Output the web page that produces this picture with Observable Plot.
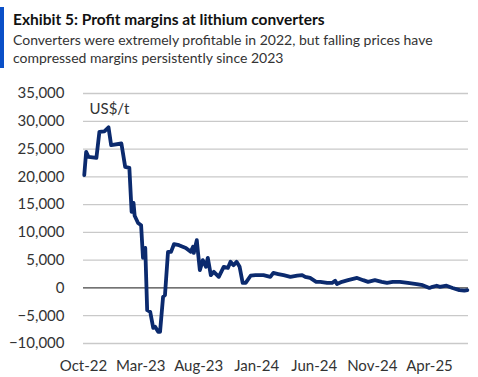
<!DOCTYPE html>
<html>
<head>
<meta charset="utf-8">
<script src="https://cdn.jsdelivr.net/npm/d3@7"></script>
<script src="https://cdn.jsdelivr.net/npm/@observablehq/plot@0.6"></script>
<style>
  body { margin: 0; background: #fff; font-family: Lato, "Open Sans", sans-serif; }
  #wrap { position: relative; width: 478px; height: 377px; overflow: hidden; }
  #bar { position: absolute; left: 0; top: 7px; width: 4px; height: 61px; background: #0a50c8; }
  #title { position: absolute; left: 13px; top: 10px; font-weight: 700; font-size: 15.5px; color: #111; white-space: nowrap; }
  #sub { position: absolute; left: 13px; top: 31px; font-size: 14px; line-height: 18px; color: #333; white-space: nowrap; }
  #chart { position: absolute; left: 0; top: 80px; }
</style>
</head>
<body>
<div id="wrap">
  <div id="bar"></div>
  <div id="title">Exhibit 5: Profit margins at lithium converters</div>
  <div id="sub">Converters were extremely profitable in 2022, but falling prices have<br>compressed margins persistently since 2023</div>
  <div id="chart"></div>
</div>
<script>
const dates = [
  "2022-10-03","2022-10-08","2022-10-14","2022-11-04","2022-11-12","2022-11-25","2022-12-06","2022-12-13",
  "2023-01-09","2023-01-19","2023-01-30","2023-02-05","2023-02-10","2023-02-13","2023-02-22","2023-03-02",
  "2023-03-07","2023-03-13","2023-03-18","2023-03-26","2023-04-03","2023-04-08","2023-04-16","2023-04-21",
  "2023-04-29","2023-05-04","2023-05-12","2023-05-20","2023-05-28","2023-06-10","2023-06-28","2023-07-11",
  "2023-07-17","2023-07-19","2023-07-27","2023-07-30","2023-08-04","2023-08-12","2023-08-20","2023-08-25",
  "2023-09-02","2023-09-10","2023-09-23","2023-10-06","2023-10-17","2023-10-24","2023-11-01","2023-11-09",
  "2023-11-17","2023-11-25","2023-12-03","2023-12-16","2023-12-29","2024-01-19","2024-02-06","2024-02-14",
  "2024-02-27","2024-03-12","2024-03-30","2024-04-17","2024-04-30","2024-05-08","2024-05-21","2024-06-06",
  "2024-06-17","2024-07-05","2024-07-18","2024-07-26","2024-07-31","2024-08-13","2024-08-29","2024-09-22",
  "2024-10-08","2024-10-21","2024-11-08","2024-11-26","2024-12-10","2024-12-25","2025-01-13","2025-02-03",
  "2025-02-26","2025-03-14","2025-04-01","2025-04-09","2025-04-20","2025-04-28","2025-05-16","2025-06-01",
  "2025-06-19","2025-07-02","2025-07-10"
];
const margins = [
  20300,24500,23600,23400,28100,28200,28900,25700,
  26000,21800,21600,13700,15300,13000,11700,11300,
  5400,7200,-4000,-4300,-7200,-7000,-7900,-7900,
  -1600,-1300,6500,6500,7900,7700,7200,6500,
  7400,6300,8600,6500,3200,5000,3800,5400,
  2300,2900,2000,3800,3600,4700,4100,4700,
  3800,900,900,2200,2300,2300,2000,2700,
  2500,2300,2000,2200,2300,2000,1800,1100,
  1100,900,900,1300,700,1100,1400,1800,
  1400,1100,1400,1100,900,1100,1100,900,
  700,500,0,200,400,200,400,0,
  -400,-500,-400
];
const xTicks = ["2022-10-01","2023-03-01","2023-08-01","2024-01-01","2024-06-01","2024-11-01","2025-04-01"];
const yTicks = [-10000,-5000,0,5000,10000,15000,20000,25000,30000,35000];
const unitLabel = "US$/t";

const data = dates.map((d, i) => ({date: new Date(d + "T00:00:00Z"), value: margins[i]}));
const fmt = d3.format(",");

const chart = Plot.plot({
  width: 478,
  height: 297,
  marginTop: 13,
  marginBottom: 34,
  marginLeft: 83,
  marginRight: 10,
  style: {fontFamily: "Lato, 'Open Sans', sans-serif", fontSize: "15px", color: "#333", background: "#fff"},
  x: {
    type: "utc",
    domain: [new Date("2022-10-01T00:00:00Z"), new Date("2025-07-13T00:00:00Z")],
    label: null
  },
  y: {
    domain: [-10000, 35000],
    label: null
  },
  marks: [
    Plot.ruleY(yTicks.filter(d => d !== 0), {stroke: "#c9c9c9", strokeWidth: 1.3}),
    Plot.ruleY([0], {stroke: "#444", strokeWidth: 1.3}),
    Plot.axisY({ticks: yTicks, tickFormat: d => fmt(d), tickSize: 0, dx: -10, fill: "#333", fontSize: 15, label: null}),
    Plot.axisX({ticks: xTicks.map(d => new Date(d + "T00:00:00Z")), tickFormat: d3.utcFormat("%b-%y"), tickSize: 0, dy: 8, fill: "#333", fontSize: 15, label: null}),
    Plot.lineY(data, {x: "date", y: "value", stroke: "#0b2a6e", strokeWidth: 3.8, strokeLinejoin: "round", strokeLinecap: "round"}),
    Plot.text([unitLabel], {frameAnchor: "top-left", dx: 6, dy: 10, text: d => d, fontSize: 15, fill: "#333", textAnchor: "start"})
  ]
});
document.getElementById("chart").appendChild(chart);
</script>
</body>
</html>
